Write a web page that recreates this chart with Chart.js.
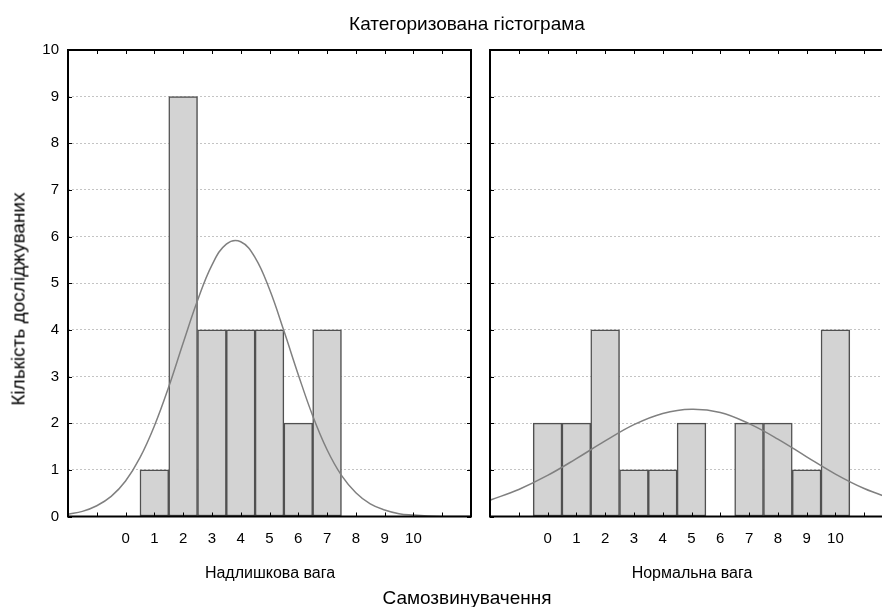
<!DOCTYPE html>
<html>
<head>
<meta charset="utf-8">
<script src="https://cdn.jsdelivr.net/npm/chart.js@4.4.0/dist/chart.umd.min.js"></script>
<style>
  html, body { margin: 0; padding: 0; background: #fff; }
  body { width: 882px; height: 607px; overflow: hidden; position: relative;
         font-family: "Liberation Sans", Arial, sans-serif; color: #000; }
  canvas { position: absolute; top: 0; }
  #leftPanel { left: 0; }
  #rightPanel { left: 480px; }
  .lbl { position: absolute; white-space: nowrap; line-height: 1; transform: translateX(-50%); }
  #mainTitle { left: 467px; top: 14px; font-size: 19px; }
  #xTitle { left: 467px; top: 588px; font-size: 19px; }
  #yTitle { left: 18px; top: 299px; font-size: 19px; transform: translate(-50%, -50%) rotate(-90deg); }
  #leftLabel { left: 270px; top: 565px; font-size: 16px; }
  #rightLabel { left: 692px; top: 565px; font-size: 16px; }
</style>
</head>
<body>
<canvas id="leftPanel" width="480" height="607"></canvas>
<canvas id="rightPanel" width="420" height="607"></canvas>
<div class="lbl" id="mainTitle">Категоризована гістограма</div>
<div class="lbl" id="yTitle">Кількість досліджуваних</div>
<div class="lbl" id="xTitle">Самозвинувачення</div>
<div class="lbl" id="leftLabel">Надлишкова вага</div>
<div class="lbl" id="rightLabel">Нормальна вага</div>
<script>
// score values (bin centres)
const scores = [0, 1, 2, 3, 4, 5, 6, 7, 8, 9, 10];

// counts per score
const overweightCounts = [0, 1, 9, 4, 4, 4, 2, 4, 0, 0, 0];
const normalCounts = [2, 2, 4, 1, 1, 2, 0, 2, 2, 1, 4];

// fitted normal curves
const overweightCurveX = [-2, -1.5, -1, -0.5, 0, 0.5, 1, 1.5, 2, 2.5, 3, 3.5, 4, 4.5, 5, 5.5, 6, 6.5, 7, 7.5, 8, 8.5, 9, 9.5, 10, 10.5, 11, 11.5, 12];
const overweightCurveY = [0.05, 0.11, 0.23, 0.43, 0.76, 1.26, 1.94, 2.78, 3.72, 4.63, 5.39, 5.84, 5.89, 5.55, 4.87, 3.98, 3.04, 2.16, 1.43, 0.88, 0.51, 0.27, 0.14, 0.06, 0.03, 0.01, 0.0, 0.0, 0.0];
const normalCurveX = [-2, -1, 0, 1, 2, 3, 4, 5, 6, 7, 8, 9, 10, 11, 12];
const normalCurveY = [0.35, 0.58, 0.88, 1.24, 1.62, 1.97, 2.21, 2.30, 2.23, 1.99, 1.66, 1.28, 0.91, 0.60, 0.37];

// axis ticks
const xMin = -2, xMax = 12;
const xLabelMin = 0, xLabelMax = 10;
const yMin = 0, yMax = 10;

Chart.defaults.font.family = '"Liberation Sans", Arial, sans-serif';
Chart.defaults.color = '#000';

// black frame with short inward tick marks on every side
const framePlugin = {
    id: 'frame',
    afterDraw(chart) {
        const ctx = chart.ctx;
        const a = chart.chartArea;
        const x = chart.scales.x;
        const y = chart.scales.y;
        ctx.save();
        ctx.strokeStyle = '#000';
        ctx.lineWidth = 1;
        ctx.beginPath();
        x.ticks.forEach(t => {
            const px = Math.round(x.getPixelForValue(t.value)) + 0.5;
            ctx.moveTo(px, a.top); ctx.lineTo(px, a.top + 4);
            ctx.moveTo(px, a.bottom); ctx.lineTo(px, a.bottom - 4);
        });
        y.ticks.forEach(t => {
            const py = Math.round(y.getPixelForValue(t.value)) + 0.5;
            ctx.moveTo(a.left, py); ctx.lineTo(a.left + 4, py);
            ctx.moveTo(a.right, py); ctx.lineTo(a.right - 4, py);
        });
        ctx.stroke();
        ctx.lineWidth = 2;
        ctx.strokeRect(a.left, a.top, a.right - a.left, a.bottom - a.top);
        ctx.restore();
    }
};

function makePanel(canvasId, counts, curveX, curveY, showYLabels, yAxisWidth, padRight) {
    const ctx = document.getElementById(canvasId).getContext('2d');

    const barPoints = scores.map((s, i) => ({ x: s, y: counts[i] === 0 ? null : counts[i] }));
    const curvePoints = curveX.map((cx, i) => ({ x: cx, y: curveY[i] }));

    return new Chart(ctx, {
        type: 'bar',
        data: {
            datasets: [{
                type: 'line',
                data: curvePoints,
                borderColor: '#808080',
                borderWidth: 1.5,
                pointRadius: 0,
                tension: 0.4,
                fill: false,
                order: 0
            }, {
                type: 'bar',
                data: barPoints,
                backgroundColor: '#d3d3d3',
                borderColor: '#505050',
                borderWidth: 1.5,
                borderSkipped: false,
                categoryPercentage: 1,
                barPercentage: 1,
                order: 1
            }]
        },
        options: {
            responsive: false,
            animation: false,
            layout: { padding: { top: 50, right: padRight, bottom: 0, left: 0 } },
            plugins: { legend: { display: false }, tooltip: { enabled: false } },
            scales: {
                x: {
                    type: 'linear',
                    min: xMin,
                    max: xMax,
                    offset: false,
                    grid: { display: false, drawTicks: false },
                    border: { display: false },
                    ticks: {
                        stepSize: 1,
                        autoSkip: false,
                        maxRotation: 0,
                        padding: 13,
                        font: { size: 15 },
                        callback: v => (v >= xLabelMin && v <= xLabelMax) ? String(v) : ''
                    },
                    afterFit: scale => {
                        scale.height = 90.5;
                        scale.paddingLeft = 0; scale.paddingRight = 0;
                    }
                },
                y: {
                    min: yMin,
                    max: yMax,
                    grid: { color: '#c4c4c4', lineWidth: 1, drawTicks: false },
                    border: { display: false, dash: [2, 2] },
                    ticks: {
                        display: showYLabels,
                        stepSize: 1,
                        padding: 9,
                        font: { size: 15 }
                    },
                    afterFit: scale => {
                        scale.width = yAxisWidth;
                        scale.paddingTop = 0; scale.paddingBottom = 0;
                    }
                }
            }
        },
        plugins: [framePlugin]
    });
}

makePanel('leftPanel', overweightCounts, overweightCurveX, overweightCurveY, true, 68, 9);
makePanel('rightPanel', normalCounts, normalCurveX, normalCurveY, false, 10, 7);
</script>
</body>
</html>
